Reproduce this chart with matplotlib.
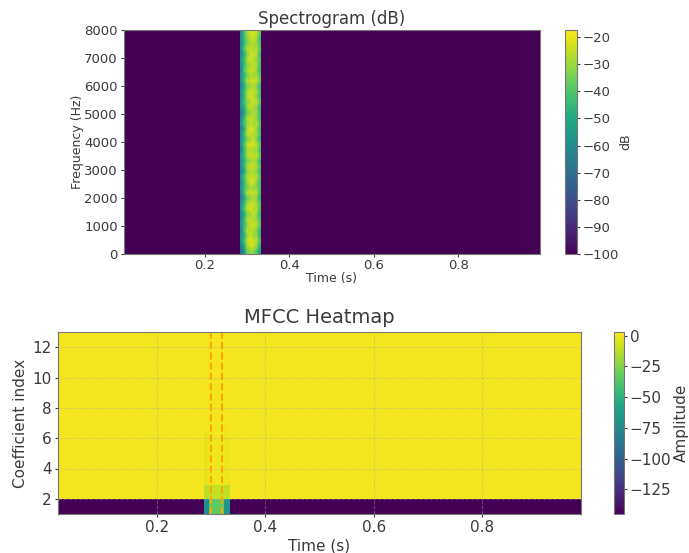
import numpy as np
import matplotlib
matplotlib.use('Agg')
import matplotlib.pyplot as plt

# Spectrogram: silence floor plus the burst, rows go from 8000 Hz down to 0 Hz
floor_db = -100
burst_db = [
    [-58, -40, -29, -24, -22, -25, -38],
    [-56, -42, -31, -25, -25, -28, -42],
    [-60, -44, -33, -29, -27, -31, -40],
    [-57, -38, -28, -25, -29, -27, -37],
    [-62, -46, -32, -26, -24, -26, -44],
    [-55, -41, -27, -23, -27, -30, -39],
    [-59, -43, -31, -29, -25, -27, -41],
    [-61, -39, -29, -25, -24, -31, -43],
    [-56, -45, -34, -28, -30, -29, -38],
    [-58, -40, -27, -26, -23, -25, -36],
    [-64, -48, -33, -30, -28, -32, -45],
    [-57, -42, -29, -24, -26, -28, -40],
    [-60, -44, -28, -23, -25, -31, -42],
    [-55, -41, -32, -28, -24, -26, -37],
    [-59, -46, -30, -25, -29, -31, -44],
    [-68, -50, -35, -31, -28, -30, -41],
    [-61, -43, -29, -25, -26, -32, -43],
    [-56, -40, -31, -27, -29, -27, -38],
    [-63, -47, -27, -22, -24, -30, -42],
    [-58, -42, -26, -24, -28, -28, -40],
    [-60, -45, -33, -29, -25, -33, -45],
    [-57, -39, -25, -23, -23, -26, -37],
    [-62, -44, -29, -27, -30, -29, -42],
    [-55, -41, -27, -24, -25, -25, -36],
    [-59, -46, -33, -30, -27, -31, -44],
    [-58, -43, -28, -25, -24, -28, -39],
    [-64, -49, -32, -27, -29, -31, -43],
    [-56, -40, -28, -25, -26, -26, -38],
    [-60, -44, -30, -23, -24, -30, -42],
    [-57, -42, -34, -29, -30, -32, -40],
    [-61, -41, -27, -24, -26, -25, -41],
    [-66, -50, -36, -32, -28, -31, -46],
    [-58, -43, -29, -25, -25, -29, -39],
    [-55, -39, -26, -22, -27, -26, -40],
    [-62, -47, -32, -30, -24, -31, -44],
    [-59, -42, -28, -26, -29, -29, -41],
    [-57, -44, -31, -24, -24, -26, -38],
    [-63, -40, -27, -28, -26, -32, -43],
    [-60, -46, -30, -23, -30, -30, -45],
    [-56, -41, -25, -22, -25, -27, -39],
    [-64, -48, -28, -24, -23, -31, -47],
    [-70, -54, -35, -31, -32, -39, -52],
]
spec_time_range = [0.008, 0.994]
burst_time_range = [0.283, 0.331]
freq_range = [0, 8000]
freq_ticks = [0, 1000, 2000, 3000, 4000, 5000, 6000, 7000, 8000]
spec_db_ticks = [-100, -90, -80, -70, -60, -50, -40, -30, -20]

# MFCC: one row per coefficient, columns are before / burst edge / burst / burst edge / after
mfcc_time_edges = [0.017, 0.287, 0.296, 0.324, 0.335, 0.983]
mfcc_coef_edges = [1, 2, 2.9, 4, 5, 6, 6.5, 7, 8, 9, 10, 11, 12, 13]
mfcc_values = [
    [-145, -72, -34, -68, -145],
    [0.8, -13, -10, -11, 0.8],
    [0.8, -2.5, -1, -1, 0.8],
    [0.8, -2.5, -1, -1, 0.8],
    [0.8, -2.5, -0.5, -0.5, 0.8],
    [0.8, -2, 0, 0, 0.8],
    [0.8, 0.8, 0, 0, 0.8],
    [0.8, 0.8, 0.3, 0.3, 0.8],
    [0.8, 0.8, 0.3, 0.3, 0.8],
    [0.8, 0.8, 0.3, 0.8, 0.8],
    [0.8, 0.8, 0.8, 0.8, 0.8],
    [0.8, 0.8, 0.8, 0.8, 0.8],
    [0.8, 0.8, 0.8, 0.8, 0.8],
]
mfcc_ticks = [0, -25, -50, -75, -100, -125]
marker_times = [0.30, 0.32]
time_ticks = [0.2, 0.4, 0.6, 0.8]

plt.rcParams['text.color'] = '#3a3a3a'
plt.rcParams['axes.labelcolor'] = '#3a3a3a'
plt.rcParams['xtick.color'] = '#3a3a3a'
plt.rcParams['ytick.color'] = '#3a3a3a'
plt.rcParams['axes.edgecolor'] = '#777777'

W, H = 689, 553
fig = plt.figure(figsize=(W / 100, H / 100), dpi=100)

def px_axes(left, top, right, bottom):
    return fig.add_axes([left / W, 1 - bottom / H, (right - left) / W, (bottom - top) / H])

# Top panel
ax1 = px_axes(124, 30, 540, 254)
cax1 = px_axes(565, 30, 577, 254)
ax1.imshow([[floor_db]], extent=[spec_time_range[0], spec_time_range[1], freq_range[0], freq_range[1]],
           aspect='auto', cmap='viridis', vmin=-100, vmax=-17.4)
im1 = ax1.imshow(burst_db, extent=[burst_time_range[0], burst_time_range[1], freq_range[0], freq_range[1]],
                 aspect='auto', cmap='viridis', vmin=-100, vmax=-17.4, interpolation='bilinear')
ax1.set_xlim(spec_time_range)
ax1.set_ylim(freq_range)
ax1.set_xticks(time_ticks)
ax1.set_yticks(freq_ticks)
ax1.tick_params(labelsize=9.5, length=2.5, pad=2)
ax1.tick_params(axis='x', pad=1)
ax1.set_title('Spectrogram (dB)', fontsize=12, pad=4)
ax1.set_xlabel('Time (s)', fontsize=9, labelpad=0)
ax1.set_ylabel('Frequency (Hz)', fontsize=9, labelpad=0)
cb1 = fig.colorbar(im1, cax=cax1, ticks=spec_db_ticks)
cb1.ax.tick_params(labelsize=9.5, length=2, pad=2)
cb1.set_label('dB', fontsize=9, labelpad=0)

# Bottom panel
ax2 = px_axes(58, 332, 581, 514)
cax2 = px_axes(614, 332, 624, 514)
mesh = ax2.pcolormesh(mfcc_time_edges, mfcc_coef_edges, np.array(mfcc_values),
                      cmap='viridis', vmin=-145, vmax=3)
for t in marker_times:
    ax2.axvline(t, color='orange', linestyle='--', linewidth=1.4)
ax2.set_xlim(mfcc_time_edges[0], mfcc_time_edges[-1])
ax2.set_ylim(1, 13)
ax2.set_xticks(time_ticks)
ax2.set_yticks([2, 4, 6, 8, 10, 12])
ax2.grid(True, color='#aaaaaa', linestyle='--', linewidth=0.7, alpha=0.4)
ax2.tick_params(labelsize=11, length=2.5, pad=2)
ax2.set_title('MFCC Heatmap', fontsize=14, pad=6.5)
ax2.set_xlabel('Time (s)', fontsize=11, labelpad=2)
ax2.set_ylabel('Coefficient index', fontsize=11, labelpad=3)
cb2 = fig.colorbar(mesh, cax=cax2, ticks=mfcc_ticks)
cb2.ax.tick_params(labelsize=11, length=2, pad=2)
cb2.set_label('Amplitude', fontsize=11, labelpad=2)

fig.savefig('out.png', dpi=100)
